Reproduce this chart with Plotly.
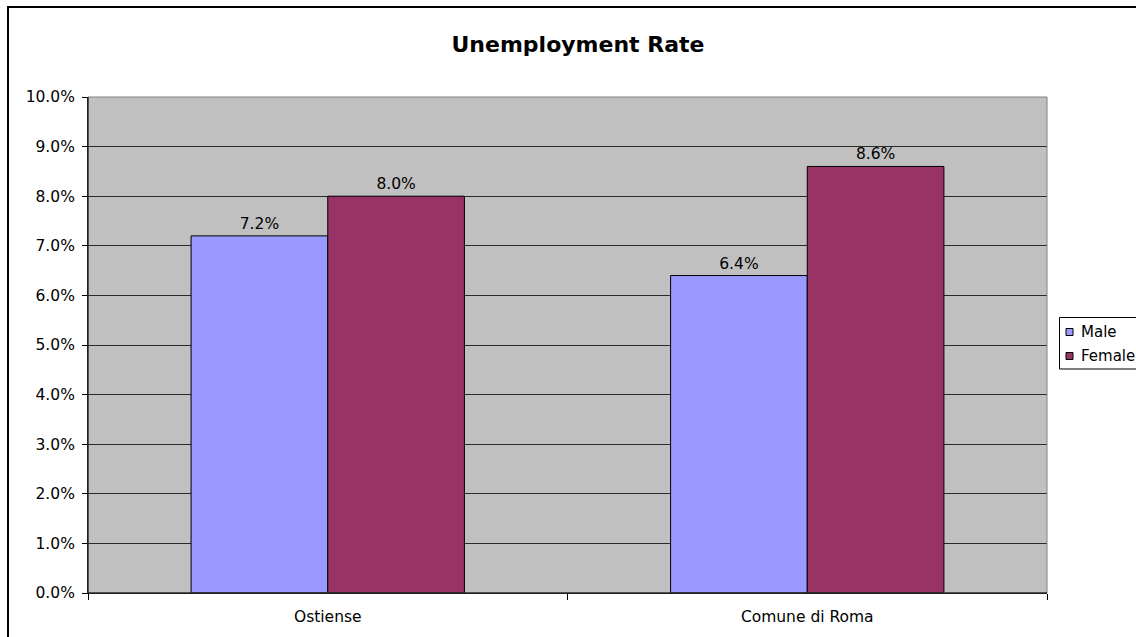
import plotly.graph_objects as go

categories = ["Ostiense", "Comune di Roma"]
male = [0.072, 0.064]
female = [0.080, 0.086]
y_ticks = [0.0, 0.01, 0.02, 0.03, 0.04, 0.05, 0.06, 0.07, 0.08, 0.09, 0.10]
series_names = ["Male", "Female"]
series_colors = ["#9999FF", "#993366"]

FONT = "Verdana, DejaVu Sans, sans-serif"

W, H = 1136, 637
L, R, T, B = 88, 1047, 97, 593
pw, ph = R - L, B - T

def px(x):
    return (x - L) / pw

def py(y):
    return (B - y) / ph

fig = go.Figure()
for name, vals, col in zip(series_names, [male, female], series_colors):
    fig.add_trace(go.Bar(
        x=categories, y=vals, name=name,
        marker=dict(color=col, line=dict(color="#000000", width=1)),
        texttemplate="%{y:.1%}", textposition="outside",
        textfont=dict(family=FONT, size=15.5, color="#000000"),
        cliponaxis=False, showlegend=False,
    ))

shapes = [
    dict(type="rect", xref="paper", yref="paper", x0=0, x1=1, y0=0, y1=1,
         line=dict(color="#808080", width=1), fillcolor="rgba(0,0,0,0)", layer="above"),
    dict(type="line", xref="paper", yref="paper", x0=0, x1=0, y0=0, y1=1,
         line=dict(color="#000000", width=1), layer="above"),
    dict(type="line", xref="paper", yref="paper", x0=0, x1=1, y0=0, y1=0,
         line=dict(color="#000000", width=1), layer="above"),
    dict(type="rect", xref="paper", yref="paper",
         x0=px(8), x1=px(1200), y0=py(700), y1=py(7),
         line=dict(color="#000000", width=2), fillcolor="rgba(0,0,0,0)", layer="above"),
    # legend box
    dict(type="rect", xref="paper", yref="paper",
         x0=px(1059.5), x1=px(1150), y0=py(369), y1=py(317.5),
         line=dict(color="#000000", width=1), fillcolor="#FFFFFF", layer="above"),
]
annotations = []
legend_rows = [332, 356]
for name, col, yc in zip(series_names, series_colors, legend_rows):
    shapes.append(dict(type="rect", xref="paper", yref="paper",
                       x0=px(1066), x1=px(1073), y0=py(yc + 3.5), y1=py(yc - 3.5),
                       line=dict(color="#000000", width=1), fillcolor=col, layer="above"))
    annotations.append(dict(text=name, xref="paper", yref="paper", x=px(1079), y=py(yc),
                            xanchor="left", yanchor="middle", showarrow=False,
                            font=dict(family=FONT, size=15, color="#000000")))

fig.update_layout(
    width=W, height=H,
    margin=dict(l=L, r=W - R, t=T, b=H - B, autoexpand=False),
    paper_bgcolor="#FFFFFF",
    plot_bgcolor="#C0C0C0",
    barmode="group", bargap=0.43, bargroupgap=0,
    font=dict(family=FONT, size=15.5, color="#000000"),
    title=dict(text="<b>Unemployment Rate</b>", x=578 / W, xref="container",
               xanchor="center", y=1 - 44 / H, yref="container", yanchor="middle",
               font=dict(family=FONT, size=22, color="#000000")),
    showlegend=False,
    xaxis=dict(showgrid=False, showline=True, linecolor="#000000", linewidth=1,
               ticks="outside", tickson="boundaries", ticklen=6, tickcolor="#000000",
               zeroline=False, ticklabelstandoff=9,
               tickfont=dict(family=FONT, size=15.5, color="#000000")),
    yaxis=dict(range=[0, 0.10], tickvals=y_ticks, tickformat=".1%",
               showgrid=True, gridcolor="#2a2a2a", gridwidth=1,
               showline=True, linecolor="#000000", linewidth=1,
               ticks="outside", ticklen=5, tickcolor="#000000",
               zeroline=False, ticklabelstandoff=4,
               tickfont=dict(family=FONT, size=15.5, color="#000000")),
    shapes=shapes,
    annotations=annotations,
)

fig.write_html("out.html")
